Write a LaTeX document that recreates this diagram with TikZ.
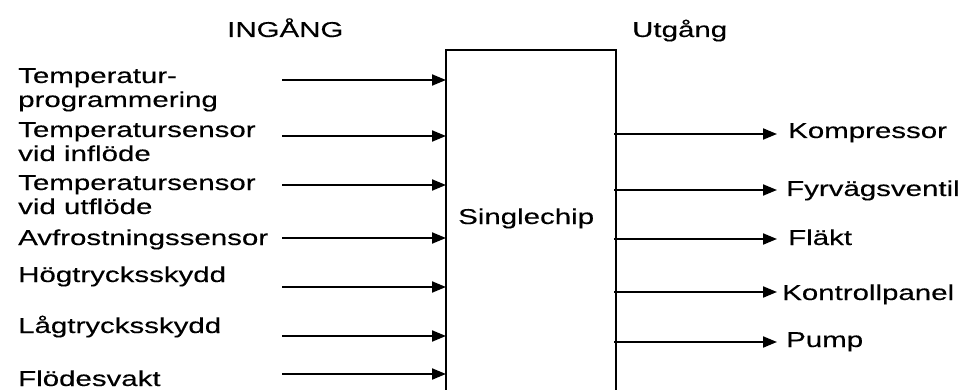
\documentclass[tikz,border=0pt]{standalone}
\usepackage{fontspec}
\setmainfont{Liberation Sans}[FakeStretch=1.37,FakeBold=0.3]
\usetikzlibrary{arrows.meta}
\begin{document}
\begin{tikzpicture}[x=1pt,y=-1pt,
  lbl/.style={anchor=base west,inner sep=0pt,align=left,font=\fontsize{21.5}{24}\selectfont},
  sig/.style={line width=2pt,-{Triangle[length=14pt,width=11pt]}},
  boxline/.style={line width=2pt}]
\useasboundingbox (0,0) rectangle (971,390);
% chip outline (open at the bottom)
\coordinate (bl) at (446,395);
\coordinate (tl) at (446,50);
\coordinate (tr) at (616,50);
\coordinate (br) at (616,395);
\draw[boxline] (bl) -- (tl) -- (tr) -- (br);
\node[lbl] (chip) at (458,224) {Singlechip};
\node[lbl] (ing) at (227,37) {INGÅNG};
\node[lbl] (utg) at (632,37) {Utgång};
% inputs
\node[lbl] (i1) at (18,107) {Temperatur-\\programmering};
\node[lbl] (i2) at (18,161) {Temperatursensor\\vid inflöde};
\node[lbl] (i3) at (18,214) {Temperatursensor\\vid utflöde};
\node[lbl] (i4) at (18,245) {Avfrostningssensor};
\node[lbl] (i5) at (18,282) {Högtrycksskydd};
\node[lbl] (i6) at (18,333) {Lågtrycksskydd};
\node[lbl] (i7) at (18,386) {Flödesvakt};
\foreach \n/\y in {1/80,2/136,3/185,4/238,5/287,6/336,7/374}{
  \coordinate (a\n) at (282,\y);
  \coordinate (b\n) at (446,\y);
  \draw[sig] (a\n) -- (b\n);
}
% outputs
\node[lbl] (o1) at (788,138) {Kompressor};
\node[lbl] (o2) at (786,196) {Fyrvägsventil};
\node[lbl] (o3) at (788,245) {Fläkt};
\node[lbl] (o4) at (782,300) {Kontrollpanel};
\node[lbl] (o5) at (786,347) {Pump};
\foreach \n/\y in {1/134,2/190,3/239,4/292,5/342}{
  \coordinate (c\n) at (614,\y);
  \coordinate (d\n) at (777,\y);
  \draw[sig] (c\n) -- (d\n);
}
\end{tikzpicture}
\end{document}
